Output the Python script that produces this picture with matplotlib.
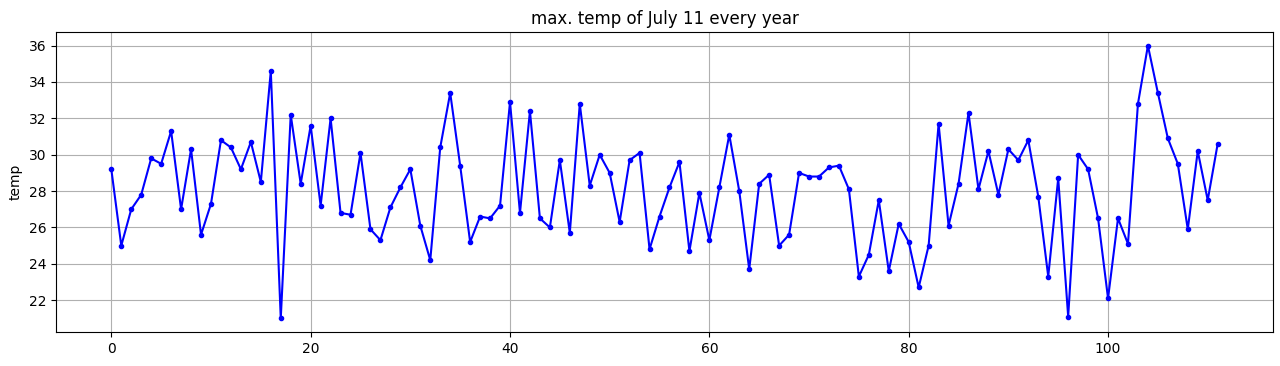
import matplotlib
matplotlib.use("Agg")
import matplotlib.pyplot as plt
import numpy as np

years = list(range(112))
temps = [
    29.2, 25.0, 27.0, 27.8, 29.8, 29.5, 31.3, 27.0, 30.3, 25.6,
    27.3, 30.8, 30.4, 29.2, 30.7, 28.5, 34.6, 21.0, 32.2, 28.4,
    31.6, 27.2, 32.0, 26.8, 26.7, 30.1, 25.9, 25.3, 27.1, 28.2,
    29.2, 26.1, 24.2, 30.4, 33.4, 29.4, 25.2, 26.6, 26.5, 27.2,
    32.9, 26.8, 32.4, 26.5, 26.0, 29.7, 25.7, 32.8, 28.3, 30.0,
    29.0, 26.3, 29.7, 30.1, 24.8, 26.6, 28.2, 29.6, 24.7, 27.9,
    25.3, 28.2, 31.1, 28.0, 23.7, 28.4, 28.9, 25.0, 25.6, 29.0,
    28.8, 28.8, 29.3, 29.4, 28.1, 23.3, 24.5, 27.5, 23.6, 26.2,
    25.2, 22.7, 25.0, 31.7, 26.1, 28.4, 32.3, 28.1, 30.2, 27.8,
    30.3, 29.7, 30.8, 27.7, 23.3, 28.7, 21.1, 30.0, 29.2, 26.5,
    22.1, 26.5, 25.1, 32.8, 36.0, 33.4, 30.9, 29.5, 25.9, 30.2,
    27.5, 30.6,
]

fig, ax = plt.subplots(figsize=(12.8, 3.66), dpi=100)
fig.subplots_adjust(left=56/1280, right=1273/1280, top=1-32/366, bottom=1-332/366)
ax.plot(years, temps, color='blue', marker='.', linestyle='-')
ax.set_title('max. temp of July 11 every year')
ax.set_ylabel('temp')
ax.grid(True)
fig.savefig('out.png', dpi=100)
